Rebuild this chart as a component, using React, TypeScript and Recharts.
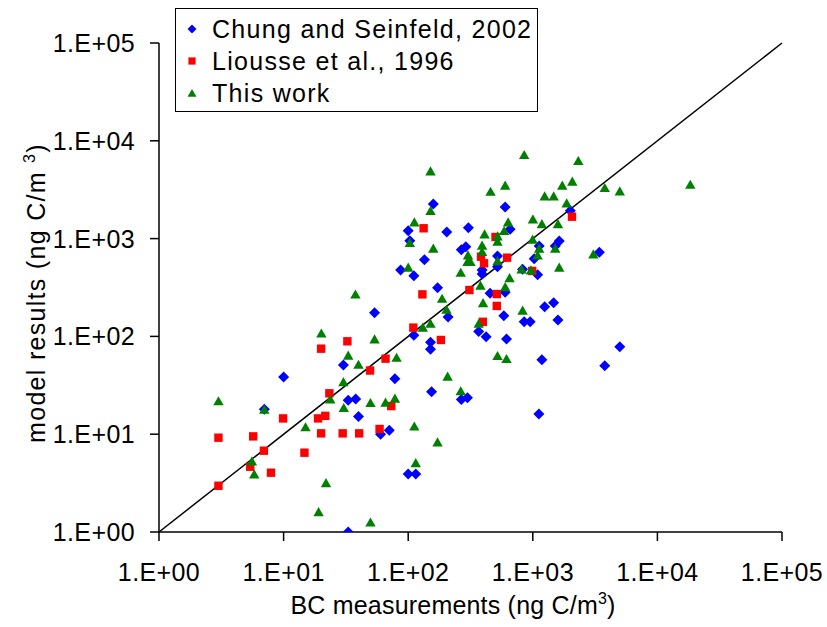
import { Legend, ReferenceLine, Scatter, ScatterChart, XAxis, YAxis } from "recharts";

const tickValues = [1, 10, 100, 1000, 10000, 100000];
const tickLabels = ["1.E+00", "1.E+01", "1.E+02", "1.E+03", "1.E+04", "1.E+05"];
const oneToOne = [1, 100000];

const seriesNames = ["Chung and Seinfeld, 2002", "Liousse et al., 1996", "This work"];
const seriesColors = ["#0000FF", "#FF0000", "#008000"];

// Chung and Seinfeld, 2002
const chungX = [
  159, 600, 2000, 100, 204, 304, 658, 103, 1630, 1514, 1125, 1026, 3420, 267, 290,
  521, 521, 135, 86.9, 111, 392, 392, 828, 1093, 600, 454, 172, 1245, 1470, 585,
  209, 53.7, 1592, 853, 953, 111, 368, 422, 615, 151, 151, 1183, 78.2, 154, 267,
  299, 1119, 60, 70.5, 100, 115, 4990, 3780, 10, 7.0, 30.2, 33, 37.9, 39.9, 33,
];
const chungY = [
  2260, 2100, 1930, 1200, 1170, 1290, 1245, 952, 945, 840, 840, 623, 724, 770, 826,
  664, 516, 608, 477, 418, 477, 435, 486, 428, 282, 276, 315, 201, 221, 163,
  158, 175, 147, 141, 141, 103, 112, 99.3, 94, 87, 73.8, 57.8, 36.9, 27.2, 22.7,
  23.6, 16.1, 9.98, 11.0, 3.92, 3.92, 78.5, 50.2, 38.4, 18, 51, 22.2, 22.9, 15.2, 1.0,
];

// Liousse et al., 1996
const lioX = [
  2063, 133, 502, 384, 406, 622, 989, 310, 514, 130, 514, 397, 110, 183, 65.8,
  49.4, 73.1, 58.9, 32.5, 20, 23.3, 9.9, 18.9, 21.6, 20, 29.8, 40.4, 3.0, 5.7,
  6.95, 14.7, 5.4, 7.92, 3.0,
];
const lioY = [
  1675, 1275, 1038, 653, 559, 638, 467, 298, 271, 269, 205, 141, 123, 91.9, 59.2,
  44.8, 19.4, 11.3, 89.1, 74.9, 26.2, 14.5, 14.5, 15.4, 10.2, 10.2, 10.2, 9.21, 9.5,
  6.78, 6.47, 4.65, 4.04, 2.97,
];

// This work
const workX = [
  151, 853, 2318, 458, 600, 1724, 2075, 1245, 1470, 1871, 151, 112, 634, 1002, 1183,
  1592, 589, 410, 521, 521, 103, 159, 996, 1514, 1125, 1093, 3062, 392, 392, 302,
  299, 316, 521, 100, 264, 813, 966, 1630, 651, 380, 600, 187, 399, 828, 203,
  368, 151, 131, 53.7, 80.7, 521, 615, 207, 264, 49.8, 65.8, 78.2, 112, 172, 115,
  49.8, 37.7, 20.1, 33, 39.9, 30.2, 23.7, 30.4, 3.0, 7.0, 15, 5.57, 5.81, 21.9, 19.1,
  3780, 4990, 18370,
];
const workY = [
  4910, 7210, 6260, 3045, 3510, 3510, 3855, 2727, 2727, 2313, 1930, 1479, 1479, 1586, 1420,
  1420, 1205, 1115, 1063, 938, 908, 796, 984, 796, 796, 680, 696, 854, 735, 680,
  581, 581, 594, 509, 452, 489, 477, 509, 398, 333, 322, 245, 221, 185, 189,
  136, 136, 124, 94, 61.1, 63.5, 59.2, 39.1, 27.7, 21, 21.2, 23.3, 12.1, 8.32, 5.11,
  1.26, 271, 108, 64.1, 51.8, 34.4, 22.9, 18.7, 21.9, 18, 11.9, 5.32, 3.92, 3.19, 1.61,
  3315, 3068, 3590,
];

const toPoints = (xs: number[], ys: number[]) => xs.map((x, i) => ({ x, y: ys[i] }));

const FONT = '"Liberation Sans", Arial, Helvetica, sans-serif';

const DiamondMark = ({ cx, cy, fill, r = 5.5 }: any) => (
  <polygon points={`${cx},${cy - r} ${cx + r},${cy} ${cx},${cy + r} ${cx - r},${cy}`} fill={fill} />
);
const SquareMark = ({ cx, cy, fill, r = 4.2 }: any) => (
  <rect x={cx - r} y={cy - r} width={2 * r} height={2 * r} fill={fill} />
);
const TriangleMark = ({ cx, cy, fill, r = 5.2 }: any) => (
  <polygon points={`${cx},${cy - r * 0.9} ${cx + r},${cy + r * 0.85} ${cx - r},${cy + r * 0.85}`} fill={fill} />
);
const marks = [DiamondMark, SquareMark, TriangleMark];

const XTick = ({ x, y, payload }: any) => (
  <text x={x} y={y + 40} textAnchor="middle" fontSize={25} fontFamily={FONT} letterSpacing={0.4} fill="#000">
    {tickLabels[tickValues.indexOf(payload.value)]}
  </text>
);

const YTick = ({ x, y, payload }: any) => (
  <text x={x - 15} y={y + 9} textAnchor="end" fontSize={25} fontFamily={FONT} letterSpacing={0.4} fill="#000">
    {tickLabels[tickValues.indexOf(payload.value)]}
  </text>
);

const XTitle = () => (
  <text x={453} y={614} textAnchor="middle" fontSize={25} fontFamily={FONT} letterSpacing={0.2} fill="#000">
    BC measurements (ng C/m
    <tspan dy={-10} fontSize={16}>3</tspan>
    <tspan dy={10}>)</tspan>
  </text>
);

const YTitle = () => (
  <text transform="translate(45,293) rotate(-90)" textAnchor="middle" fontSize={25} fontFamily={FONT} letterSpacing={1.3} fill="#000">
    model results (ng C/m{" "}
    <tspan dy={-10} fontSize={16}>3</tspan>
    <tspan dy={10}>)</tspan>
  </text>
);

const LegendBox = () => (
  <div style={{ width: 363, height: 104, border: "1.5px solid #000", boxSizing: "border-box", background: "#fff" }}>
    <svg width={360} height={101} style={{ display: "block" }}>
      {seriesNames.map((name, i) => {
        const Mark = marks[i];
        const cy = 20 + i * 32;
        return (
          <g key={name}>
            <Mark cx={16} cy={cy} fill={seriesColors[i]} r={i === 1 ? 3.6 : 4.5} />
            <text x={36} y={cy + 9} fontSize={25} fontFamily={FONT} letterSpacing={1.3} fill="#000">
              {name}
            </text>
          </g>
        );
      })}
    </svg>
  </div>
);

const seriesData = [toPoints(chungX, chungY), toPoints(lioX, lioY), toPoints(workX, workY)];

export default function App() {
  return (
    <div style={{ position: "absolute", left: 0, top: 0, background: "#fff" }}>
      <ScatterChart width={827} height={627} margin={{ top: 43, right: 45, bottom: 0, left: 0 }}>
        <XAxis
          type="number"
          dataKey="x"
          scale="log"
          domain={[1, 100000]}
          ticks={tickValues}
          interval={0}
          allowDataOverflow
          height={95}
          tickSize={9}
          tickMargin={0}
          tick={<XTick />}
          stroke="#000"
          strokeWidth={1.5}
          label={<XTitle />}
        />
        <YAxis
          type="number"
          dataKey="y"
          scale="log"
          domain={[1, 100000]}
          ticks={tickValues}
          interval={0}
          allowDataOverflow
          width={159}
          tickSize={9}
          tickMargin={0}
          tick={<YTick />}
          stroke="#000"
          strokeWidth={1.5}
          label={<YTitle />}
        />
        <ReferenceLine
          segment={[
            { x: oneToOne[0], y: oneToOne[0] },
            { x: oneToOne[1], y: oneToOne[1] },
          ]}
          stroke="#000"
          strokeWidth={1.5}
        />
        {seriesNames.map((name, i) => {
          const Mark = marks[i];
          return (
            <Scatter
              key={name}
              name={name}
              data={seriesData[i]}
              fill={seriesColors[i]}
              isAnimationActive={false}
              shape={(p: any) => <Mark cx={p.cx} cy={p.cy} fill={seriesColors[i]} />}
            />
          );
        })}
        <Legend
          layout="vertical"
          align="center"
          verticalAlign="middle"
          content={<LegendBox />}
          wrapperStyle={{ left: 175, top: 8, width: 363, height: 104 }}
        />
      </ScatterChart>
    </div>
  );
}
